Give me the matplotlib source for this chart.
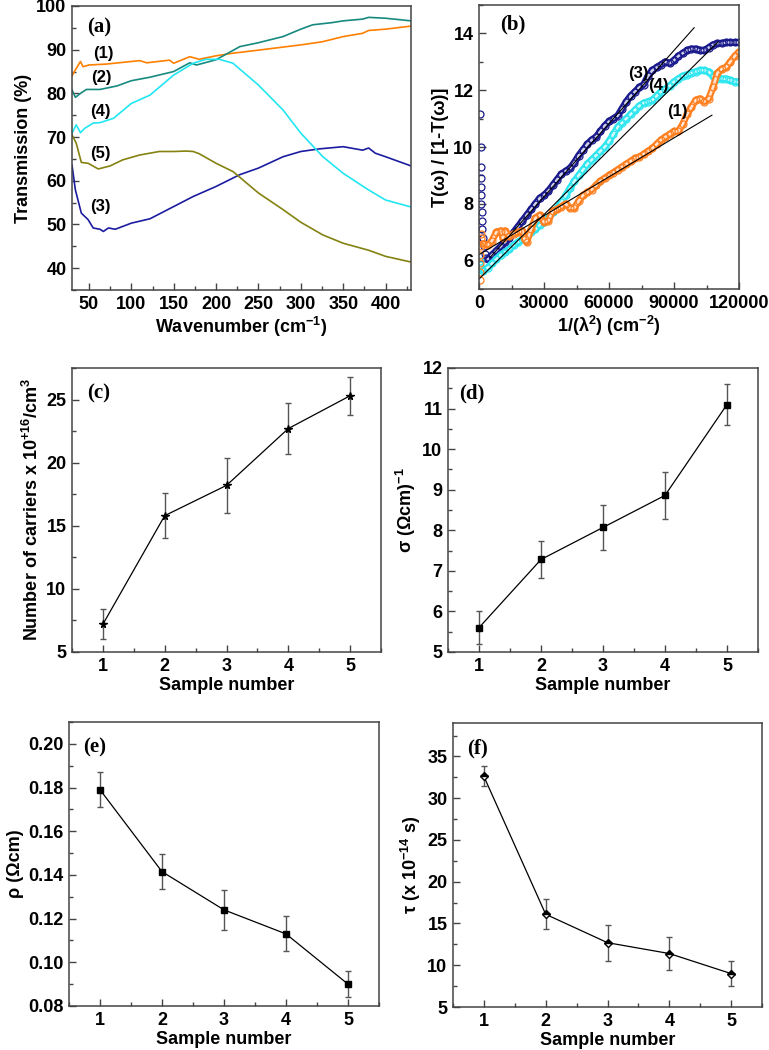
import matplotlib
matplotlib.use("Agg")
import matplotlib.pyplot as plt
from matplotlib.ticker import MultipleLocator

plt.rcParams['font.family'] = ['Liberation Sans', 'DejaVu Sans']
plt.rcParams['font.weight'] = 'bold'
plt.rcParams['mathtext.fontset'] = 'custom'
plt.rcParams['mathtext.rm'] = 'Liberation Sans:bold'
plt.rcParams['mathtext.it'] = 'Liberation Sans:bold'
plt.rcParams['mathtext.bf'] = 'Liberation Sans:bold'
plt.rcParams['mathtext.default'] = 'rm'

# ---------------- Panel (a): transmission spectra ----------------
a1_x = [30, 34, 40, 43, 50, 70, 100, 110, 118, 145, 150, 169, 180, 200, 220, 250, 300, 325, 350, 373, 380, 400, 430]
a1_y = [84.0, 85.4, 87.3, 86.1, 86.5, 86.7, 87.3, 87.5, 87.0, 87.6, 86.9, 88.4, 87.8, 88.6, 89.2, 89.9, 91.1, 91.8, 93.0, 93.75, 94.4, 94.7, 95.4]

a2_x = [30, 34, 40, 47, 63, 83, 100, 122, 150, 169, 177, 200, 228, 250, 279, 300, 314, 337, 350, 373, 380, 400, 430]
a2_y = [80.8, 79.1, 80.0, 80.9, 80.9, 81.7, 82.9, 83.7, 85.0, 87.0, 86.5, 87.7, 90.7, 91.6, 93.0, 94.7, 95.7, 96.2, 96.6, 97.0, 97.4, 97.2, 96.6]

a3_x = [30, 34, 41, 49, 55, 63, 67, 73, 81, 100, 122, 150, 173, 200, 228, 250, 279, 300, 322, 350, 373, 380, 388, 400, 430]
a3_y = [63.6, 57.9, 52.6, 51.1, 49.2, 48.9, 48.4, 49.2, 48.9, 50.3, 51.3, 54.1, 56.4, 58.7, 61.4, 62.9, 65.5, 66.7, 67.3, 67.8, 67.0, 67.5, 66.3, 65.5, 63.4]

a4_x = [30, 35, 40, 45, 55, 63, 79, 100, 122, 150, 173, 188, 204, 220, 250, 279, 300, 326, 350, 380, 400, 430]
a4_y = [70.9, 72.8, 71.0, 72.0, 73.2, 73.3, 74.3, 77.7, 79.6, 84.2, 86.9, 87.8, 87.8, 86.9, 81.9, 76.2, 70.9, 65.5, 61.7, 57.9, 55.6, 54.0]

a5_x = [30, 35, 41, 49, 61, 75, 90, 110, 133, 150, 165, 173, 180, 200, 220, 250, 279, 300, 326, 350, 380, 400, 430]
a5_y = [70.5, 68.6, 64.2, 64.0, 62.7, 63.4, 64.8, 65.9, 66.7, 66.7, 66.8, 66.7, 66.2, 64.0, 62.1, 57.2, 53.4, 50.5, 47.6, 45.7, 44.1, 42.7, 41.4]

# ---------------- Panel (b): T/(1-T) vs 1/lambda^2 ----------------
b3_x = [600, 700, 800, 850, 900, 1000, 1100, 1200, 1300, 1500, 1800, 2200, 2800, 3300,
        4000, 6000, 8000, 10000, 12000, 14000, 16000, 18000, 20000, 22000, 24000, 26000, 28000,
        30000, 32000, 34000, 36000, 38000, 40000, 42000, 44000, 46000, 48000, 50000, 52000,
        54000, 56000, 58000, 60000, 62000, 64000, 66000, 68000, 70000, 72000, 74000, 76000,
        78000, 80000, 82000, 84000, 86000, 88000, 90000, 92000, 94000, 96000, 98000, 100000,
        102000, 104000, 106000, 108000, 110000, 112000, 114000, 116000, 118000, 120000]
b3_y = [11.15, 10.0, 9.3, 8.9, 8.6, 8.3, 8.0, 7.7, 7.4, 7.1, 6.8, 6.5, 6.25, 6.1,
        6.05, 6.2, 6.35, 6.5, 6.65, 6.8, 7.0, 7.2, 7.4, 7.6, 7.8, 8.0, 8.2,
        8.3, 8.45, 8.65, 8.85, 9.05, 9.15, 9.25, 9.45, 9.7, 9.9, 10.1, 10.25,
        10.35, 10.55, 10.75, 10.9, 11.0, 11.1, 11.35, 11.6, 11.8, 11.95, 12.1, 12.2,
        12.5, 12.7, 12.8, 12.9, 13.0, 12.95, 13.05, 13.2, 13.3, 13.4, 13.45, 13.45,
        13.4, 13.4, 13.5, 13.6, 13.65, 13.65, 13.68, 13.68, 13.68, 13.68]

b4_x = [300, 600, 1000, 2000, 4000, 6000, 8000, 10000, 12000, 14000, 16000, 18000, 20000,
        22000, 24000, 26000, 28000, 30000, 32000, 34000, 36000, 38000, 40000, 42000, 44000,
        46000, 48000, 50000, 52000, 54000, 56000, 58000, 60000, 62000, 64000, 66000, 68000,
        70000, 72000, 74000, 76000, 78000, 80000, 82000, 84000, 86000, 88000, 90000, 92000,
        94000, 96000, 98000, 100000, 102000, 104000, 106000, 108000, 110000, 112000, 114000,
        116000, 118000, 120000]
b4_y = [6.0, 5.85, 5.7, 5.65, 5.75, 5.9, 6.05, 6.2, 6.3, 6.4, 6.55, 6.65, 6.75,
        6.9, 7.0, 7.1, 7.25, 7.35, 7.5, 7.7, 7.85, 8.05, 8.3, 8.55, 8.8,
        9.0, 9.2, 9.4, 9.55, 9.7, 9.85, 10.0, 10.2, 10.45, 10.7, 10.85, 11.0,
        11.15, 11.3, 11.45, 11.55, 11.6, 11.65, 11.8, 11.95, 12.05, 12.15, 12.3, 12.4,
        12.5, 12.55, 12.6, 12.65, 12.7, 12.7, 12.65, 12.5, 12.4, 12.4, 12.4,
        12.35, 12.3, 12.3]

b1_x = [300, 400, 500, 600, 700, 800, 1000, 2000, 4000, 6000, 8000, 10000, 11000, 12000,
        14000, 16000, 18000, 20000, 21000, 22000, 24000, 26000, 28000, 30000, 32000, 34000,
        36000, 38000, 40000, 42000, 44000, 46000, 48000, 50000, 52000, 54000, 56000, 58000,
        60000, 62000, 64000, 66000, 68000, 70000, 72000, 74000, 76000, 78000, 80000, 82000,
        84000, 86000, 88000, 90000, 92000, 94000, 96000, 98000, 100000, 102000, 104000,
        106000, 108000, 110000, 112000, 114000, 116000, 118000, 120000]
b1_y = [5.3, 5.6, 5.9, 6.2, 6.5, 6.8, 6.95, 6.6, 6.55, 6.7, 7.0, 7.05, 6.8, 7.05,
        6.85, 6.95, 7.0, 7.05, 6.75, 6.65, 7.1, 7.5, 7.6, 7.35, 7.4, 7.75,
        7.8, 7.9, 8.0, 7.85, 7.85, 8.1, 8.3, 8.4, 8.5, 8.65, 8.8, 8.9,
        9.0, 9.1, 9.2, 9.3, 9.4, 9.5, 9.6, 9.65, 9.75, 9.85, 9.95, 10.1,
        10.25, 10.35, 10.45, 10.55, 10.55, 10.8, 11.15, 11.4, 11.65, 11.7, 11.6,
        11.7, 12.1, 12.6, 12.75, 12.8, 13.0, 13.2, 13.35]

# linear fits (end points)
fit3_x = [5000, 99300]
fit3_y = [6.1, 14.2]
fit4_x = [0, 110300]
fit4_y = [5.35, 13.7]
fit1_x = [0, 107500]
fit1_y = [6.21, 11.12]

# ---------------- Panels (c)-(f): vs sample number ----------------
samples = [1, 2, 3, 4, 5]
carriers = [7.2, 15.8, 18.2, 22.7, 25.3]
carriers_err = [1.2, 1.8, 2.2, 2.0, 1.5]
sigma = [5.6, 7.28, 8.07, 8.86, 11.1]
sigma_err = [0.4, 0.45, 0.55, 0.57, 0.5]
rho = [0.179, 0.1415, 0.124, 0.113, 0.090]
rho_err = [0.008, 0.008, 0.009, 0.008, 0.006]
tau = [32.6, 16.1, 12.7, 11.4, 9.0]
tau_err = [1.2, 1.8, 2.15, 2.0, 1.5]

W, H = 769, 1050
fig = plt.figure(figsize=(W / 100, H / 100), dpi=100)


def add_ax(l, r, t, b):
    return fig.add_axes([l / W, 1 - b / H, (r - l) / W, (b - t) / H])


TICK_FS = 13
LAB_FS = 13
SPINE = '#444444'


def style(ax, xmaj, xmin, ymaj, ymin):
    ax.xaxis.set_major_locator(MultipleLocator(xmaj))
    ax.xaxis.set_minor_locator(MultipleLocator(xmin))
    ax.yaxis.set_major_locator(MultipleLocator(ymaj))
    ax.yaxis.set_minor_locator(MultipleLocator(ymin))
    ax.tick_params(which='both', direction='in', top=False, right=False,
                   labelsize=TICK_FS, color=SPINE, width=1.0)
    ax.tick_params(which='major', length=5, pad=4)
    ax.tick_params(which='minor', length=3)
    for s in ax.spines.values():
        s.set_color(SPINE)
        s.set_linewidth(1.1)
    for lab in ax.get_xticklabels() + ax.get_yticklabels():
        lab.set_fontweight('bold')


def panel_label(ax, txt, x=0.07, y=0.925):
    ax.text(x, y, txt, transform=ax.transAxes, fontsize=15, fontweight='bold',
            family=['Liberation Serif', 'DejaVu Serif'], va='center', ha='left')


# ---- (a)
ax = add_ax(72, 411, 6, 290)
ax.plot(a1_x, a1_y, color='#ff8000', lw=1.2)
ax.plot(a2_x, a2_y, color='#178a80', lw=1.2)
ax.plot(a3_x, a3_y, color='#1c1ca0', lw=1.2)
ax.plot(a4_x, a4_y, color='#22e6f2', lw=1.2)
ax.plot(a5_x, a5_y, color='#848210', lw=1.2)
ax.set_xlim(30, 430)
ax.set_ylim(35, 100)
style(ax, 50, 25, 10, 5)
ax.set_xlabel('Wavenumber (cm$^{-1}$)', fontsize=LAB_FS, fontweight='bold', labelpad=2)
ax.set_ylabel('Transmission (%)', fontsize=LAB_FS, fontweight='bold', labelpad=3)
for txt, xx, yy in [('(1)', 67, 89.2), ('(2)', 65, 83.7), ('(4)', 64, 75.8),
                    ('(5)', 64, 66.3), ('(3)', 63, 54.1)]:
    ax.text(xx, yy, txt, fontsize=12, fontweight='bold', ha='center', va='center')
panel_label(ax, '(a)', 0.045, 0.926)

# ---- (b)
ax = add_ax(479, 739, 5, 289)


def band(xs, ys, color, xstart):
    bx = [x for x in xs if x >= xstart]
    by = [y for x, y in zip(xs, ys) if x >= xstart]
    ax.plot(bx, by, color=color, lw=5.0, solid_capstyle='round', solid_joinstyle='round')
    ax.plot(bx, by, color='white', lw=1.8, alpha=0.8, solid_capstyle='round')
    ax.plot(xs, ys, marker='o', ls='none', markersize=5, markerfacecolor='none',
            markeredgewidth=0.9, color=color)


band(b3_x, b3_y, '#1a1a8c', 4000)
band(b4_x, b4_y, '#2ee6f0', 2000)
band(b1_x, b1_y, '#ff8020', 2000)
ax.plot(fit3_x, fit3_y, color='black', lw=0.8)
ax.plot(fit4_x, fit4_y, color='black', lw=0.8)
ax.plot(fit1_x, fit1_y, color='black', lw=0.8)
ax.set_xlim(0, 120000)
ax.set_ylim(5, 15)
style(ax, 30000, 15000, 2, 1)
ax.set_xlabel('1/(λ$^{2}$) (cm$^{-2}$)', fontsize=LAB_FS, fontweight='bold', labelpad=2)
ax.set_ylabel('T(ω) / [1-T(ω)]', fontsize=LAB_FS, fontweight='bold', labelpad=3)
for txt, xx, yy in [('(3)', 73400, 12.58), ('(4)', 82600, 12.15), ('(1)', 91400, 11.26)]:
    ax.text(xx, yy, txt, fontsize=12, fontweight='bold', ha='center', va='center')
panel_label(ax, '(b)', 0.08, 0.93)

eb = dict(color='black', lw=0.9, ecolor='#555555', elinewidth=1.0, capsize=2.5, capthick=1.0)

# ---- (c)
ax = add_ax(72, 381, 368, 652)
ax.errorbar(samples, carriers, yerr=carriers_err, marker='*', markersize=5.5,
            markerfacecolor='black', markeredgecolor='black', **eb)
ax.set_xlim(0.5, 5.5)
ax.set_ylim(5, 27.5)
style(ax, 1, 0.5, 5, 2.5)
ax.set_xlabel('Sample number', fontsize=LAB_FS, fontweight='bold', labelpad=2)
ax.set_ylabel('Number of carriers x 10$^{+16}$/cm$^{3}$', fontsize=LAB_FS, fontweight='bold', labelpad=3)
panel_label(ax, '(c)', 0.05, 0.91)

# ---- (d)
ax = add_ax(448, 758, 368, 652)
ax.errorbar(samples, sigma, yerr=sigma_err, marker='s', markersize=4.5,
            markerfacecolor='black', markeredgecolor='black', **eb)
ax.set_xlim(0.5, 5.5)
ax.set_ylim(5, 12)
style(ax, 1, 0.5, 1, 0.5)
ax.set_xlabel('Sample number', fontsize=LAB_FS, fontweight='bold', labelpad=2)
ax.set_ylabel('σ (Ωcm)$^{-1}$', fontsize=LAB_FS, fontweight='bold', labelpad=3)
panel_label(ax, '(d)', 0.035, 0.91)

# ---- (e)
ax = add_ax(69, 379, 722, 1006)
ax.errorbar(samples, rho, yerr=rho_err, marker='s', markersize=4.5,
            markerfacecolor='black', markeredgecolor='black', **eb)
ax.set_xlim(0.5, 5.5)
ax.set_ylim(0.08, 0.21)
style(ax, 1, 0.5, 0.02, 0.01)
ax.yaxis.set_major_formatter(plt.FormatStrFormatter('%.2f'))
for lab in ax.get_yticklabels():
    lab.set_fontweight('bold')
ax.set_xlabel('Sample number', fontsize=LAB_FS, fontweight='bold', labelpad=2)
ax.set_ylabel('ρ (Ωcm)', fontsize=LAB_FS, fontweight='bold', labelpad=3)
panel_label(ax, '(e)', 0.045, 0.91)

# ---- (f)
ax = add_ax(453, 762, 723, 1007)
ax.errorbar(samples, tau, yerr=tau_err, marker='D', markersize=4, fillstyle='top',
            markerfacecolor='black', markerfacecoloralt='white', markeredgecolor='black', **eb)
ax.set_xlim(0.5, 5.5)
ax.set_ylim(5, 39)
style(ax, 1, 0.5, 5, 2.5)
ax.set_xlabel('Sample number', fontsize=LAB_FS, fontweight='bold', labelpad=2)
ax.set_ylabel('τ (x 10$^{-14}$ s)', fontsize=LAB_FS, fontweight='bold', labelpad=3)
panel_label(ax, '(f)', 0.045, 0.91)

fig.savefig('out.png', dpi=100)
